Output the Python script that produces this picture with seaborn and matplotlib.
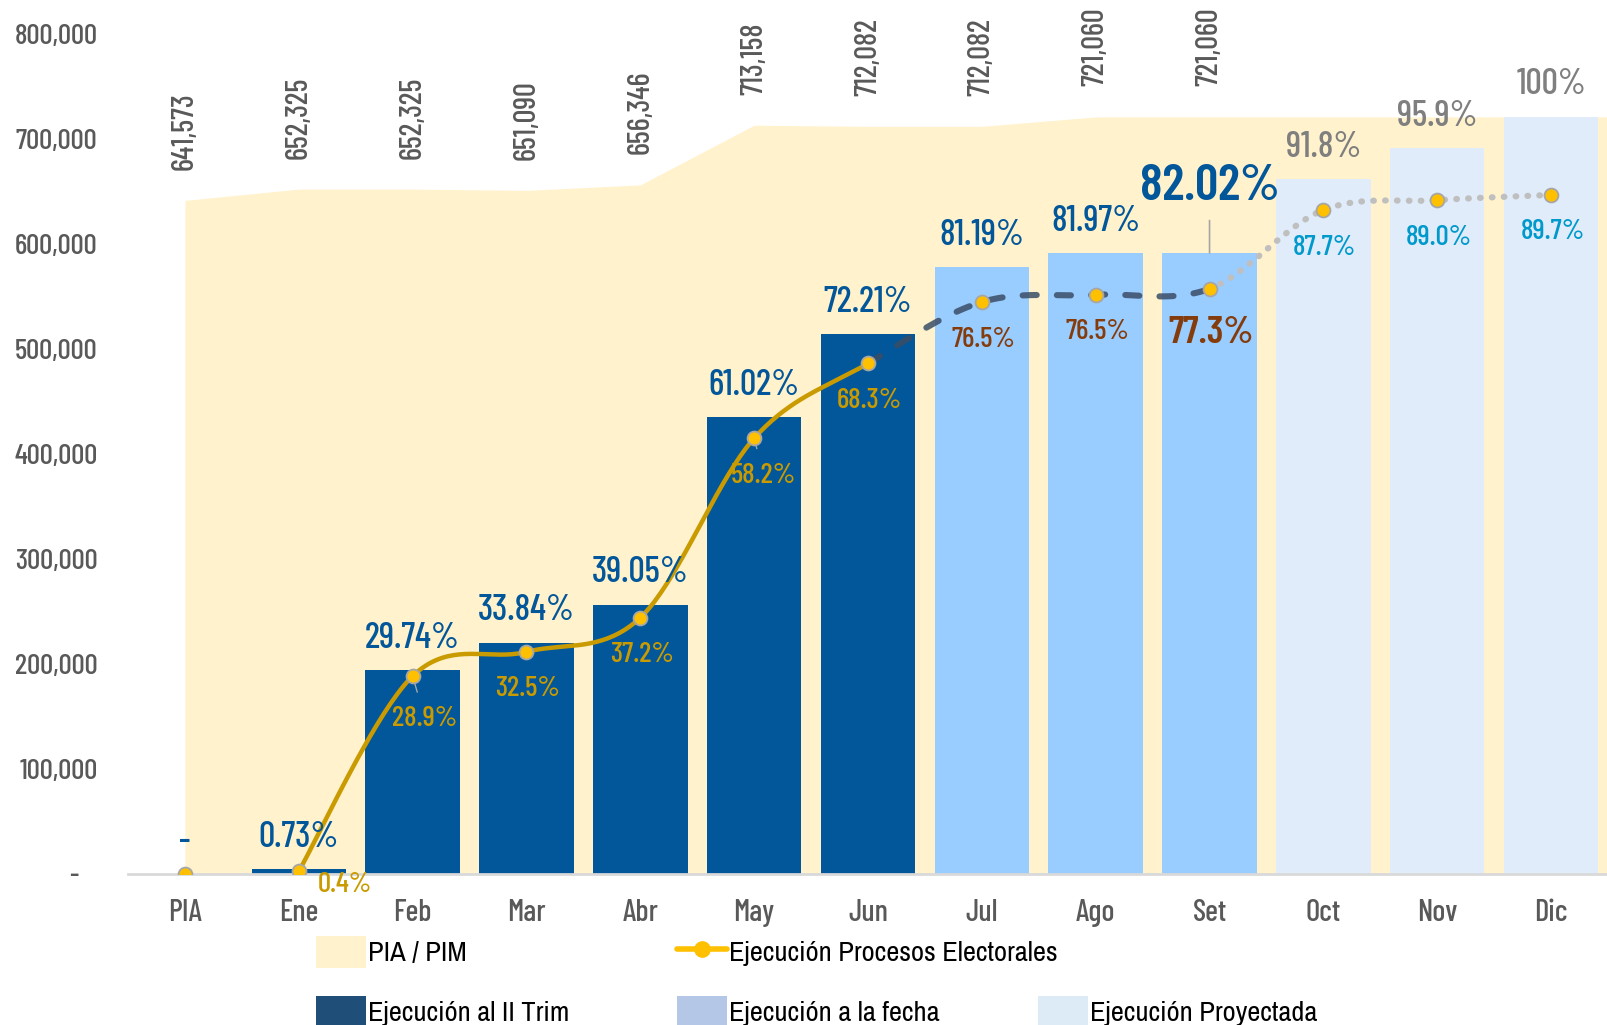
import numpy as np
import pandas as pd
import matplotlib
matplotlib.use("Agg")
import matplotlib.pyplot as plt
import seaborn as sns
from matplotlib import font_manager as fm
from matplotlib.patches import Patch
from matplotlib.lines import Line2D
from matplotlib.ticker import FuncFormatter, MultipleLocator

# ---------------- data ----------------
months = ["PIA", "Ene", "Feb", "Mar", "Abr", "May", "Jun", "Jul", "Ago", "Set", "Oct", "Nov", "Dic"]
pim = [641573, 652325, 652325, 651090, 656346, 713158, 712082, 712082, 721060, 721060, 721060, 721060, 721060]
pim_labels = ["641,573", "652,325", "652,325", "651,090", "656,346", "713,158", "712,082", "712,082", "721,060", "721,060"]
exec_pct = [0, 0.73, 29.74, 33.84, 39.05, 61.02, 72.21, 81.19, 81.97, 82.02, 91.8, 95.9, 100.0]
exec_labels = ["-", "0.73%", "29.74%", "33.84%", "39.05%", "61.02%", "72.21%", "81.19%", "81.97%", "82.02%", "91.8%", "95.9%", "100%"]
elect_pct = [0, 0.4, 28.9, 32.5, 37.2, 58.2, 68.3, 76.5, 76.5, 77.3, 87.7, 89.0, 89.7]
elect_labels = [None, "0.4%", "28.9%", "32.5%", "37.2%", "58.2%", "68.3%", "76.5%", "76.5%", "77.3%", "87.7%", "89.0%", "89.7%"]
bar_group = ["trim"] * 7 + ["fecha"] * 3 + ["proy"] * 3

# ---------------- style ----------------
sns.set_theme(style="white")
available = {f.name for f in fm.fontManager.ttflist}

def pick(prefs):
    for p in prefs:
        if p in available:
            return p
    return "DejaVu Sans"

F_MAIN = pick(["Barlow Condensed", "Barlow Semi Condensed", "Roboto Condensed", "Saira Semi Condensed",
               "Asap Condensed", "Fira Sans Condensed", "Archivo Narrow"])
F_LEG = pick(["Arial Narrow", "Liberation Sans Narrow", "Archivo Narrow", "PT Sans Narrow",
              "Roboto Condensed", "Asap Condensed", F_MAIN])
plt.rcParams["font.family"] = [F_MAIN, "DejaVu Sans"]

C_AREA = "#FFF2CC"
C_BAR = {"trim": "#02569A", "fecha": "#99CCFF", "proy": "#E0ECFA"}
C_BLUE_TXT = "#02569A"
C_GOLD = "#C99B00"
C_BROWN = "#843C0C"
C_CYAN = "#0099CC"
C_GREY_TXT = "#7F7F7F"
C_TICK = "#595959"

fig = plt.figure(figsize=(16.08, 10.25), dpi=100)
ax = fig.add_axes([0.0796, 0.1473, 0.9204, 0.8195])

x = np.arange(len(months))
bars = np.array(exec_pct) / 100.0 * np.array(pim)
line_vals = np.array(elect_pct) / 100.0 * np.array(pim)

# PIM area (extends to the right edge of the plot)
xa = np.append(x, x[-1] + 0.5)
ya = np.append(pim, pim[-1])
ax.fill_between(xa, 0, ya, color=C_AREA, lw=0, zorder=0)

# bars
df = pd.DataFrame({"mes": months, "valor": bars, "grupo": bar_group})
palette = {m: C_BAR[g] for m, g in zip(months, bar_group)}
sns.barplot(data=df, x="mes", y="valor", hue="mes", palette=palette, legend=False,
            width=0.83, saturation=1, ax=ax, zorder=2, linewidth=0)

# smooth line (Catmull-Rom style Bezier through the data points)
def smooth(xs, ys, n=40):
    pts = np.column_stack([xs, ys]).astype(float)
    segs = []
    for i in range(len(pts) - 1):
        p0 = pts[i - 1] if i > 0 else pts[i]
        p1, p2 = pts[i], pts[i + 1]
        p3 = pts[i + 2] if i + 2 < len(pts) else pts[i + 1]
        c1 = p1 + (p2 - p0) / 6.0
        c2 = p2 - (p3 - p1) / 6.0
        t = np.linspace(0, 1, n)[:, None]
        b = ((1 - t) ** 3) * p1 + 3 * ((1 - t) ** 2) * t * c1 + 3 * (1 - t) * t ** 2 * c2 + t ** 3 * p2
        segs.append(b)
    return segs

segs = smooth(x[1:], line_vals[1:])  # segment k joins point k+1 -> k+2

def join(a, b):
    return np.vstack([segs[k] for k in range(a, b)])

solid = join(0, 5)   # Ene -> Jun
dashed = join(5, 8)  # Jun -> Set
dotted = join(8, 11)  # Set -> Dic
ax.plot(solid[:, 0], solid[:, 1], color=C_GOLD, lw=3.2, zorder=4, solid_capstyle="round")
ax.plot(dashed[:, 0], dashed[:, 1], color="#3A4D66", alpha=0.85, lw=4.4, zorder=4,
        dashes=(2.3, 3.3), dash_capstyle="round")
ax.plot(dotted[:, 0], dotted[:, 1], color="#BFBFBF", lw=4.5, zorder=4,
        dashes=(0.1, 1.8), dash_capstyle="round")
ax.plot(x, line_vals, ls="none", marker="o", ms=10, mfc="#FFC000", mec="#A6A6A6", mew=1.3, zorder=5)

# axes cosmetics
ax.set_xlim(-0.5, 12.5)
ax.set_ylim(0, 800000)
ax.yaxis.set_major_locator(MultipleLocator(100000))
ax.yaxis.set_major_formatter(FuncFormatter(lambda v, p: "-   " if v == 0 else f"{v:,.0f}"))
ax.set_xlabel("")
ax.set_ylabel("")
for s in ["top", "right", "left"]:
    ax.spines[s].set_visible(False)
ax.spines["bottom"].set_color("#D9D9D9")
ax.spines["bottom"].set_linewidth(2)
ax.spines["bottom"].set_zorder(3)
ax.tick_params(axis="y", length=0, pad=22, labelsize=21, labelcolor=C_TICK)
ax.tick_params(axis="x", length=0, pad=18, labelsize=22, labelcolor=C_TICK)
for t in ax.get_xticklabels() + ax.get_yticklabels():
    t.set_fontweight("medium")
ax.grid(False)

# rotated PIM labels
for i, lab in enumerate(pim_labels):
    ax.annotate(lab, (x[i], pim[i]), xytext=(0, 22), textcoords="offset points",
                rotation=90, ha="center", va="bottom", fontsize=22, fontweight="medium",
                color=C_TICK, zorder=6)

# bar labels
for i, lab in enumerate(exec_labels):
    if i == 9:
        ax.annotate(lab, (x[i], bars[i]), xytext=(0, 48), textcoords="offset points",
                    ha="center", va="center", fontsize=37, fontweight="semibold", color=C_BLUE_TXT, zorder=6,
                    arrowprops=dict(arrowstyle="-", color="#A6A6A6", lw=1.2, shrinkA=6, shrinkB=0))
    else:
        col = C_GREY_TXT if i >= 10 else C_BLUE_TXT
        ax.annotate(lab, (x[i], bars[i]), xytext=(0, 23), textcoords="offset points",
                    ha="center", va="center", fontsize=26, fontweight="medium", color=col, zorder=6)

# line labels
offsets = {1: (33, -10), 2: (9, -31), 5: (7, -27), 9: (1, -32)}
for i, lab in enumerate(elect_labels):
    if lab is None:
        continue
    col = C_GOLD if i <= 6 else (C_BROWN if i <= 9 else C_CYAN)
    fs = 28 if i == 9 else 21
    dx, dy = offsets.get(i, (1, -27))
    kw = {}
    if i in (2, 5):
        kw["arrowprops"] = dict(arrowstyle="-", color="#A6A6A6", lw=1.0, shrinkA=8, shrinkB=5)
    ax.annotate(lab, (x[i], line_vals[i]), xytext=(dx, dy), textcoords="offset points",
                ha="center", va="center", fontsize=fs, fontweight="semibold" if i == 9 else "medium",
                color=col, zorder=6, **kw)

# legend (Excel-like grid placement)
leg_items = [
    (Patch(facecolor=C_AREA, edgecolor="none"), "PIA / PIM", 316, 952),
    (Line2D([0], [0], color="#FFC000", lw=4, marker="o", ms=11, mfc="#FFC000", mec="#FFC000"),
     "Ejecución Procesos Electorales", 677, 952),
    (Patch(facecolor="#1F4E79", edgecolor="none"), "Ejecución al II Trim", 316, 1012),
    (Patch(facecolor="#B4C7E7", edgecolor="none"), "Ejecución a la fecha", 677, 1012),
    (Patch(facecolor="#DDEBF7", edgecolor="none"), "Ejecución Proyectada", 1038, 1012),
]
for h, lab, px, py in leg_items:
    lg = fig.legend([h], [lab], loc="center left", bbox_to_anchor=(px / 1608, 1 - py / 1025),
                    frameon=False, handlelength=1.75, handleheight=1.4,
                    handletextpad=0.08, borderpad=0, borderaxespad=0,
                    prop={"family": [F_LEG, "DejaVu Sans"], "size": 20.5})
    for t in lg.get_texts():
        t.set_color("black")

fig.savefig("out.png", dpi=100)
